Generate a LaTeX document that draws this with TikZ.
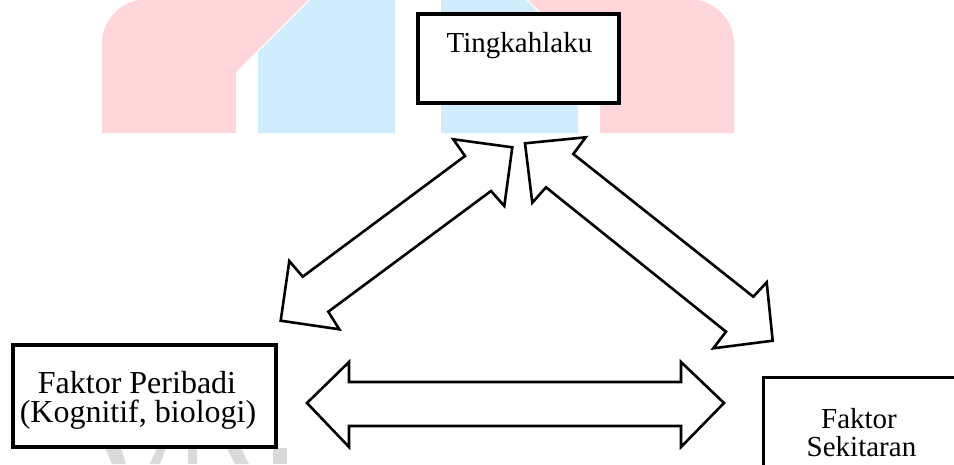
\documentclass[tikz,border=0pt]{standalone}
\usepackage{fontspec}
\setmainfont{Liberation Serif}
\definecolor{wpink}{RGB}{255,214,217}
\definecolor{wblue}{RGB}{207,237,253}
\definecolor{wgray}{RGB}{218,218,218}
\begin{document}
\begin{tikzpicture}[x=1pt,y=-1pt,
  box/.style={draw=black, line width=3.2pt, fill=white, inner sep=0pt},
  arr/.style={draw=black, line width=2.6pt, fill=white, line join=miter},
  lbl/.style={font=\fontsize{29}{29}\selectfont, inner sep=0pt, anchor=base},
  pinkmark/.style={fill=wpink},
  bluemark/.style={fill=wblue},
  graymark/.style={fill=wgray}]
\useasboundingbox (0,0) rectangle (954,464);
\clip (0,0) rectangle (954,464);
\fill[white] (0,0) rectangle (954,464);
% watermark
\path[pinkmark] (102,133) -- (102,43) .. controls (102,22) and (118,4) .. (138,0) -- (308,0) -- (236,72) -- (236,133) -- cycle;
\path[bluemark] (258,133) -- (258,52) -- (310,0) -- (395,0) -- (395,133) -- cycle;
\path[bluemark] (441,133) -- (441,0) -- (526,0) -- (578,52) -- (578,133) -- cycle;
\path[pinkmark] (600,133) -- (600,72) -- (528,0) -- (698,0) .. controls (718,4) and (734,22) .. (734,43) -- (734,133) -- cycle;
\path[graymark] (105,448) -- (121,448) -- (126,464) -- (112,464) -- cycle;
\path[graymark] (157,448) -- (166,448) -- (160,464) -- (150,464) -- cycle;
\path[graymark] (188,448) rectangle (197,464);
\path[graymark] (227,448) -- (241,448) -- (249,464) -- (235,464) -- cycle;
\path[graymark] (273,448) rectangle (287,464);
% boxes
\node[box, minimum width=201pt, minimum height=89pt] (T) at (518.5,58.5) {};
\node[lbl] (Tt) at (519.5,52) {Tingkahlaku};
\node[box, minimum width=263pt, minimum height=102pt] (P) at (144.5,396) {};
\node[lbl, font=\fontsize{32}{32}\selectfont] (P1) at (137,393) {Faktor Peribadi};
\node[lbl, font=\fontsize{32}{32}\selectfont] (P2) at (138,422) {(Kognitif, biologi)};
\node[box, minimum width=230pt, minimum height=120pt, anchor=north west] (S) at (762,376) {};
\node[lbl] (S1) at (859,428) {Faktor};
\node[lbl] (S2) at (861.5,456.7) {Sekitaran};
% block arrows
\draw[arr] (307,403) -- (349,362) -- (349,382) -- (681,382) -- (681,362) -- (724,403)
  -- (681,447) -- (681,426) -- (349,426) -- (349,447) -- cycle;
\draw[arr] (512.3,147.3) -- (453.3,139.3) -- (465,156) -- (302.7,276.7) -- (289.3,261)
  -- (280.7,320.7) -- (339.3,329.3) -- (328.3,311.7) -- (491,191) -- (504.3,206) -- cycle;
\draw[arr] (525,143.3) -- (585.7,137.3) -- (573.3,154) -- (753.3,296.7) -- (766.7,282.3)
  -- (772.7,340.7) -- (713.3,348.3) -- (726,331.7) -- (546,187.3) -- (532.3,202.7) -- cycle;
\end{tikzpicture}
\end{document}
